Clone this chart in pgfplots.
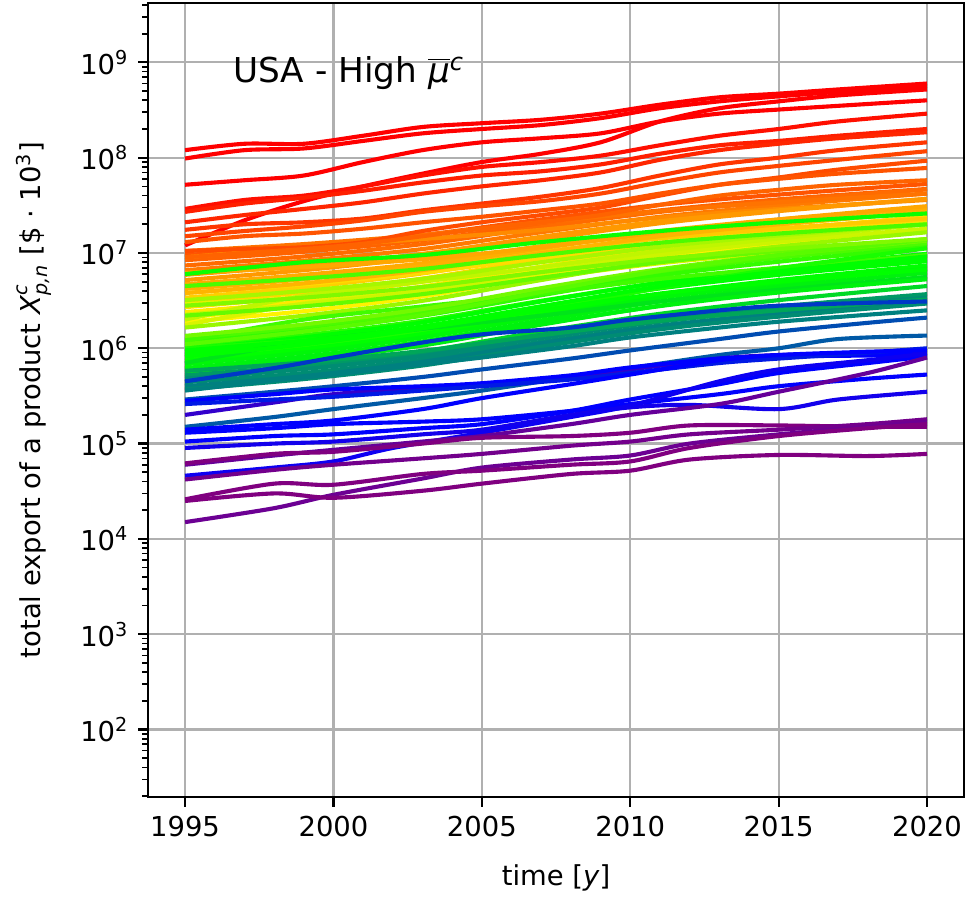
\documentclass[border=0pt]{standalone}
\usepackage{fontspec}
\setmainfont{DejaVu Sans}
\usepackage{pgfplots}
\pgfplotsset{compat=1.18}

% colour anchors of the product colour scale
\definecolor{cpur}{rgb}{0.5,0,0.5}
\definecolor{cblu}{rgb}{0,0,1}
\definecolor{clim}{rgb}{0,1,0}
\definecolor{cyel}{rgb}{1,0.95,0}
\definecolor{cora}{rgb}{1,0.6,0}
\definecolor{cred}{rgb}{1,0,0}
\definecolor{gridgray}{RGB}{176,176,176}

\begin{document}
\begin{tikzpicture}
\begin{axis}[
  scale only axis, width=297.8pt, height=289.8pt,
  ymode=log, log basis y=10,
  xmin=1993.75, xmax=2021.25,
  ymin=19.5, ymax=4.2e9,
  xtick={1995,2000,...,2020},
  ytick={1e2,1e3,1e4,1e5,1e6,1e7,1e8,1e9},
  minor ytick={20,30,40,50,60,70,80,90,
    200,300,400,500,600,700,800,900,
    2e3,3e3,4e3,5e3,6e3,7e3,8e3,9e3,
    2e4,3e4,4e4,5e4,6e4,7e4,8e4,9e4,
    2e5,3e5,4e5,5e5,6e5,7e5,8e5,9e5,
    2e6,3e6,4e6,5e6,6e6,7e6,8e6,9e6,
    2e7,3e7,4e7,5e7,6e7,7e7,8e7,9e7,
    2e8,3e8,4e8,5e8,6e8,7e8,8e8,9e8,
    2e9,3e9,4e9},
  grid=major,
  major grid style={color=gridgray, line width=0.8pt},
  axis line style={line width=0.8pt},
  tick style={black, line width=0.8pt},
  minor tick style={black, line width=0.6pt},
  major tick length=3.5pt, minor tick length=2pt,
  tick align=outside, tick pos=left,
  xticklabel style={font=\fontsize{10}{12}\selectfont,
    /pgf/number format/1000 sep={}, /pgf/number format/assume math mode=true},
  yticklabel={10\textsuperscript{\pgfmathparse{int(round(\tick))}\pgfmathresult}},
  yticklabel style={font=\fontsize{10}{12}\selectfont},
  xlabel={time [\textit{y}]},
  ylabel={total export of a product $\mbox{\itshape X}^{\mbox{\scriptsize\itshape c}}_{\mbox{\scriptsize\itshape p,n}}$ [\$ · 10\textsuperscript{3}]},
  label style={font=\fontsize{10}{12}\selectfont},
  xlabel shift=3.3pt, ylabel shift=3.6pt,
  every axis plot/.append style={line width=1.5pt, smooth, tension=0.5, no markers, line join=round},
]

% ---- yellow products
\addplot[cyel!60!cora] coordinates {(1995,3.4e6)(1999,4.35e6)(2003,6.1e6)(2007,9.6e6)(2011,1.45e7)(2015,1.98e7)(2020,2.7e7)};
\addplot[cyel!70!cora] coordinates {(1995,3.0e6)(1999,3.85e6)(2003,5.4e6)(2007,8.5e6)(2011,1.28e7)(2015,1.75e7)(2020,2.4e7)};
\addplot[cyel!80!cora] coordinates {(1995,2.7e6)(1999,3.5e6)(2003,5.0e6)(2007,8.1e6)(2011,1.25e7)(2015,1.73e7)(2020,2.4e7)};
\addplot[cyel!90!cora] coordinates {(1995,2.4e6)(1999,3.1e6)(2003,4.45e6)(2007,7.2e6)(2011,1.1e7)(2015,1.54e7)(2020,2.15e7)};
\addplot[cyel] coordinates {(1995,2.1e6)(1999,2.8e6)(2003,4.0e6)(2007,6.6e6)(2011,1.05e7)(2015,1.5e7)(2020,2.1e7)};
\addplot[cyel] coordinates {(1995,1.9e6)(1999,2.45e6)(2003,3.5e6)(2007,5.7e6)(2011,8.8e6)(2015,1.22e7)(2020,1.7e7)};
\addplot[cyel!85!clim] coordinates {(1995,1.75e6)(1999,2.95e6)(2003,4.0e6)(2007,5.5e6)(2011,7.8e6)(2015,1.02e7)(2020,1.4e7)};
\addplot[cyel!75!cora] coordinates {(1995,3.8e6)(1999,4.7e6)(2003,6.2e6)(2007,9.0e6)(2011,1.27e7)(2015,1.65e7)(2020,2.15e7)};
\addplot[cyel!90!clim] coordinates {(1995,2.9e6)(1999,3.4e6)(2003,4.3e6)(2007,6.1e6)(2011,9.4e6)(2015,1.39e7)(2020,2.05e7)};
\addplot[cyel!80!clim] coordinates {(1995,2.25e6)(1999,2.9e6)(2003,4.0e6)(2007,6.35e6)(2011,9.6e6)(2015,1.31e7)(2020,1.8e7)};
\addplot[cyel!55!cora] coordinates {(1995,4.6e6)(1999,5.6e6)(2003,7.2e6)(2007,1.03e7)(2011,1.42e7)(2015,1.81e7)(2020,2.3e7)};
\addplot[cyel!75!clim] coordinates {(1995,2.0e6)(1999,3.55e6)(2003,5.0e6)(2007,7.1e6)(2011,1.05e7)(2015,1.42e7)(2020,2.0e7)};
\addplot[cyel!65!clim] coordinates {(1995,3.2e6)(1999,4.0e6)(2003,5.35e6)(2007,8.0e6)(2011,1.16e7)(2015,1.53e7)(2020,2.0e7)};
\addplot[cyel!60!clim] coordinates {(1995,1.65e6)(1999,2.2e6)(2003,3.15e6)(2007,5.2e6)(2011,8.3e6)(2015,1.17e7)(2020,1.65e7)};

% ---- orange products
\addplot[cred!45!cora] coordinates {(1995,9.5e6)(1999,1.17e7)(2003,1.54e7)(2007,2.25e7)(2011,3.2e7)(2015,4.1e7)(2020,5.3e7)};
\addplot[cred!35!cora] coordinates {(1995,8.4e6)(1999,1.03e7)(2003,1.36e7)(2007,2.0e7)(2011,2.8e7)(2015,3.65e7)(2020,4.7e7)};
\addplot[cred!30!cora] coordinates {(1995,7.4e6)(1999,9.2e6)(2003,1.24e7)(2007,1.86e7)(2011,2.7e7)(2015,3.5e7)(2020,4.65e7)};
\addplot[cred!20!cora] coordinates {(1995,6.6e6)(1999,8.3e6)(2003,1.1e7)(2007,1.65e7)(2011,2.4e7)(2015,3.15e7)(2020,4.2e7)};
\addplot[cred!10!cora] coordinates {(1995,9.0e6)(1999,1.15e7)(2003,1.4e7)(2007,1.75e7)(2011,2.35e7)(2015,2.9e7)(2020,3.6e7)};
\addplot[cora] coordinates {(1995,5.9e6)(1999,7.4e6)(2003,9.8e6)(2007,1.48e7)(2011,2.15e7)(2015,2.8e7)(2020,3.7e7)};
\addplot[cora] coordinates {(1995,5.2e6)(1999,6.6e6)(2003,9.0e6)(2007,1.38e7)(2011,2.05e7)(2015,2.75e7)(2020,3.7e7)};
\addplot[cora!80!cyel] coordinates {(1995,4.7e6)(1999,5.9e6)(2003,7.8e6)(2007,1.18e7)(2011,1.7e7)(2015,2.25e7)(2020,2.95e7)};
\addplot[cora!75!cyel] coordinates {(1995,4.2e6)(1999,5.3e6)(2003,7.3e6)(2007,1.12e7)(2011,1.65e7)(2015,2.2e7)(2020,3.0e7)};
\addplot[cora!85!cyel] coordinates {(1995,6.2e6)(1999,7.1e6)(2003,8.6e6)(2007,1.15e7)(2011,1.63e7)(2015,2.25e7)(2020,3.1e7)};
\addplot[cora!70!cyel] coordinates {(1995,3.8e6)(1999,4.8e6)(2003,6.6e6)(2007,1.0e7)(2011,1.5e7)(2015,2.0e7)(2020,2.7e7)};
\addplot[cred!25!cora] coordinates {(1995,1.05e7)(1999,1.24e7)(2003,1.55e7)(2007,2.1e7)(2011,2.75e7)(2015,3.4e7)(2020,4.2e7)};

% ---- green products
\addplot[clim!70!cyel] coordinates {(1995,1.25e6)(1999,1.65e6)(2003,2.4e6)(2007,3.95e6)(2011,6.3e6)(2015,8.9e6)(2020,1.25e7)};
\addplot[clim!80!cyel] coordinates {(1995,1.15e6)(1999,1.52e6)(2003,2.2e6)(2007,3.6e6)(2011,5.8e6)(2015,8.1e6)(2020,1.15e7)};
\addplot[clim!85!cyel] coordinates {(1995,1.05e6)(1999,1.37e6)(2003,1.95e6)(2007,3.15e6)(2011,4.85e6)(2015,6.75e6)(2020,9.4e6)};
\addplot[clim] coordinates {(1995,9.8e5)(1999,1.3e6)(2003,1.87e6)(2007,3.1e6)(2011,4.9e6)(2015,6.9e6)(2020,9.8e6)};
\addplot[clim] coordinates {(1995,9.2e5)(1999,1.2e6)(2003,1.7e6)(2007,2.75e6)(2011,4.25e6)(2015,5.9e6)(2020,8.2e6)};
\addplot[clim] coordinates {(1995,8.6e5)(1999,1.14e6)(2003,1.64e6)(2007,2.72e6)(2011,4.3e6)(2015,6.1e6)(2020,8.6e6)};
\addplot[clim!90!cyel] coordinates {(1995,8.0e5)(1999,1.04e6)(2003,1.48e6)(2007,2.4e6)(2011,3.7e6)(2015,5.1e6)(2020,7.1e6)};
\addplot[clim] coordinates {(1995,7.4e5)(1999,9.8e5)(2003,1.41e6)(2007,2.34e6)(2011,3.7e6)(2015,5.2e6)(2020,7.4e6)};
\addplot[clim!97!cblu] coordinates {(1995,6.8e5)(1999,9.0e5)(2003,1.3e6)(2007,2.15e6)(2011,3.4e6)(2015,4.8e6)(2020,6.8e6)};
\addplot[clim!95!cblu] coordinates {(1995,6.2e5)(1999,8.2e5)(2003,1.18e6)(2007,1.96e6)(2011,3.1e6)(2015,4.4e6)(2020,6.2e6)};
\addplot[clim!92!cblu] coordinates {(1995,5.6e5)(1999,7.4e5)(2003,1.07e6)(2007,1.77e6)(2011,2.8e6)(2015,3.96e6)(2020,5.6e6)};
\addplot[clim!75!cyel] coordinates {(1995,1.2e6)(1999,2.0e6)(2003,2.75e6)(2007,3.75e6)(2011,5.35e6)(2015,7.0e6)(2020,9.5e6)};
\addplot[clim!90!cyel] coordinates {(1995,1.0e6)(1999,1.21e6)(2003,1.62e6)(2007,2.5e6)(2011,4.3e6)(2015,6.9e6)(2020,1.12e7)};
\addplot[clim!95!cyel] coordinates {(1995,6.0e6)(1999,8.0e6)(2003,9.5e6)(2007,1.3e7)(2011,1.7e7)(2015,2.1e7)(2020,2.6e7)};
\addplot[clim!60!cyel] coordinates {(1995,2.2e6)(1999,2.75e6)(2003,3.7e6)(2007,5.5e6)(2011,8.0e6)(2015,1.05e7)(2020,1.39e7)};
\addplot[clim!70!cyel] coordinates {(1995,4.5e6)(1999,5.4e6)(2003,6.8e6)(2007,9.5e6)(2011,1.28e7)(2015,1.6e7)(2020,2.0e7)};
\addplot[clim!55!cyel] coordinates {(1995,1.35e6)(1999,1.78e6)(2003,2.58e6)(2007,4.27e6)(2011,6.76e6)(2015,9.56e6)(2020,1.35e7)};
\addplot[clim!90!cblu] coordinates {(1995,7.0e5)(1999,1.18e6)(2003,1.6e6)(2007,2.2e6)(2011,3.1e6)(2015,4.1e6)(2020,5.6e6)};
\addplot[clim] coordinates {(1995,9.5e5)(1999,1.2e6)(2003,1.64e6)(2007,2.5e6)(2011,3.75e6)(2015,5.0e6)(2020,6.7e6)};
\addplot[clim!65!cyel] coordinates {(1995,1.1e6)(1999,1.5e6)(2003,2.23e6)(2007,3.9e6)(2011,6.5e6)(2015,9.5e6)(2020,1.38e7)};
\addplot[clim] coordinates {(1995,8.2e5)(1999,1.1e6)(2003,1.62e6)(2007,2.75e6)(2011,4.45e6)(2015,6.4e6)(2020,9.2e6)};
\addplot[clim!50!cyel] coordinates {(1995,2.8e6)(1999,3.4e6)(2003,4.4e6)(2007,6.3e6)(2011,8.65e6)(2015,1.1e7)(2020,1.4e7)};
\addplot[clim!85!cblu] coordinates {(1995,5.0e5)(1999,6.5e5)(2003,9.25e5)(2007,1.5e6)(2011,2.3e6)(2015,3.2e6)(2020,4.5e6)};
\addplot[clim!95!cblu] coordinates {(1995,6.0e5)(1999,7.8e5)(2003,1.11e6)(2007,1.8e6)(2011,2.77e6)(2015,3.85e6)(2020,5.3e6)};

% ---- teal products
\addplot[clim!60!cblu] coordinates {(1995,5.2e5)(1999,6.55e5)(2003,9.0e5)(2007,1.38e6)(2011,2.05e6)(2015,2.75e6)(2020,3.7e6)};
\addplot[clim!55!cblu] coordinates {(1995,4.8e5)(1999,6.05e5)(2003,8.3e5)(2007,1.28e6)(2011,1.9e6)(2015,2.55e6)(2020,3.4e6)};
\addplot[clim!55!cblu] coordinates {(1995,4.4e5)(1999,5.5e5)(2003,7.6e5)(2007,1.17e6)(2011,1.73e6)(2015,2.3e6)(2020,3.1e6)};
\addplot[clim!50!cblu] coordinates {(1995,4.0e5)(1999,5.1e5)(2003,7.2e5)(2007,1.13e6)(2011,1.7e6)(2015,2.33e6)(2020,3.2e6)};
\addplot[clim!55!cblu] coordinates {(1995,3.7e5)(1999,4.75e5)(2003,6.6e5)(2007,1.04e6)(2011,1.58e6)(2015,2.15e6)(2020,2.95e6)};
\addplot[clim!65!cblu] coordinates {(1995,5.8e5)(1999,7.1e5)(2003,9.4e5)(2007,1.37e6)(2011,1.94e6)(2015,2.5e6)(2020,3.25e6)};
\addplot[cblu!50!clim] coordinates {(1995,3.6e5)(1998,4.6e5)(2000,5.3e5)(2003,6.8e5)(2005,8.0e5)(2008,1.05e6)(2010,1.3e6)(2013,1.65e6)(2015,1.9e6)(2018,2.25e6)(2020,2.5e6)};
\addplot[cblu!70!clim] coordinates {(1995,2.9e5)(1998,3.5e5)(2000,4.0e5)(2003,5.0e5)(2005,6.0e5)(2008,7.8e5)(2010,9.5e5)(2013,1.25e6)(2015,1.5e6)(2018,1.85e6)(2020,2.1e6)};
\addplot[cblu!65!clim] coordinates {(1995,1.5e5)(1998,1.9e5)(2000,2.3e5)(2003,3.0e5)(2005,3.6e5)(2008,5.0e5)(2010,6.2e5)(2013,8.5e5)(2015,1.0e6)(2017,1.25e6)(2020,1.36e6)};
\addplot[cblu!78!clim] coordinates {(1995,4.5e5)(1998,6.2e5)(2000,8.0e5)(2003,1.15e6)(2005,1.4e6)(2008,1.65e6)(2010,2.0e6)(2013,2.5e6)(2015,2.8e6)(2018,3.0e6)(2020,3.1e6)};

% ---- red products
\addplot[cred] coordinates {(1995,1.2e8)(1997,1.4e8)(1999,1.4e8)(2001,1.7e8)(2003,2.1e8)(2005,2.3e8)(2007,2.5e8)(2009,2.9e8)(2011,3.6e8)(2013,4.3e8)(2015,4.7e8)(2017,5.2e8)(2020,6.0e8)};
\addplot[cred] coordinates {(1995,9.8e7)(1997,1.2e8)(1999,1.25e8)(2001,1.5e8)(2003,1.8e8)(2005,2.0e8)(2007,2.2e8)(2009,2.6e8)(2011,3.3e8)(2013,3.9e8)(2015,4.4e8)(2017,4.9e8)(2020,5.6e8)};
\addplot[cred] coordinates {(1995,1.2e7)(1997,2.2e7)(1999,3.5e7)(2001,5.0e7)(2003,6.8e7)(2005,9.0e7)(2007,1.1e8)(2009,1.45e8)(2011,2.4e8)(2013,3.3e8)(2015,3.9e8)(2017,4.5e8)(2020,5.2e8)};
\addplot[cred] coordinates {(1995,5.2e7)(1997,5.8e7)(1999,6.5e7)(2001,9.0e7)(2003,1.2e8)(2005,1.45e8)(2007,1.6e8)(2009,1.8e8)(2011,2.4e8)(2013,2.9e8)(2015,3.2e8)(2017,3.5e8)(2020,4.0e8)};
\addplot[cred!90!cora] coordinates {(1995,2.9e7)(1997,3.6e7)(1999,4.0e7)(2001,5.0e7)(2003,6.5e7)(2005,8.0e7)(2007,9.0e7)(2009,1.05e8)(2011,1.35e8)(2013,1.7e8)(2015,2.0e8)(2017,2.4e8)(2020,2.9e8)};
\addplot[cred!80!cora] coordinates {(1995,2.7e7)(1997,3.3e7)(1999,3.8e7)(2001,4.5e7)(2003,5.5e7)(2005,6.5e7)(2007,7.2e7)(2009,8.5e7)(2011,1.1e8)(2013,1.35e8)(2015,1.5e8)(2017,1.7e8)(2020,2.0e8)};
\addplot[cred!75!cora] coordinates {(1995,2.1e7)(1997,2.5e7)(1999,2.9e7)(2001,3.4e7)(2003,4.2e7)(2005,5.0e7)(2007,5.8e7)(2009,7.0e7)(2011,9.5e7)(2013,1.2e8)(2015,1.4e8)(2017,1.6e8)(2020,1.85e8)};
\addplot[cred!65!cora] coordinates {(1995,1.75e7)(1997,2.0e7)(1999,2.1e7)(2001,2.3e7)(2003,2.8e7)(2005,3.3e7)(2007,3.9e7)(2009,4.8e7)(2011,6.5e7)(2013,8.5e7)(2015,1.0e8)(2017,1.2e8)(2020,1.45e8)};
\addplot[cred!55!cora] coordinates {(1995,1.5e7)(1997,1.7e7)(1999,1.9e7)(2001,2.2e7)(2003,2.7e7)(2005,3.1e7)(2007,3.5e7)(2009,4.2e7)(2011,5.5e7)(2013,7.0e7)(2015,8.2e7)(2017,9.5e7)(2020,1.17e8)};
\addplot[cred!50!cora] coordinates {(1995,1.05e7)(1997,1.1e7)(1999,1.15e7)(2001,1.3e7)(2003,1.7e7)(2005,2.1e7)(2007,2.5e7)(2009,3.0e7)(2011,4.0e7)(2013,5.2e7)(2015,6.2e7)(2017,7.5e7)(2020,9.3e7)};
\addplot[cred!45!cora] coordinates {(1995,1.3e7)(1997,1.5e7)(1999,1.6e7)(2001,1.8e7)(2003,2.1e7)(2005,2.4e7)(2007,2.8e7)(2009,3.3e7)(2011,4.2e7)(2013,5.2e7)(2015,6.0e7)(2017,6.8e7)(2020,7.8e7)};
\addplot[cred!35!cora] coordinates {(1995,9.0e6)(1997,1.0e7)(1999,1.1e7)(2001,1.25e7)(2003,1.5e7)(2005,1.8e7)(2007,2.1e7)(2009,2.5e7)(2011,3.2e7)(2013,4.0e7)(2015,4.6e7)(2017,5.2e7)(2020,5.8e7)};

% ---- blue products
\addplot[cblu!60!cpur] coordinates {(1995,2.0e5)(1998,2.7e5)(2000,3.3e5)(2003,3.9e5)(2005,4.2e5)(2008,5.0e5)(2010,6.0e5)(2013,7.8e5)(2015,8.5e5)(2018,8.8e5)(2020,9.0e5)};
\addplot[cblu] coordinates {(1995,2.8e5)(1998,3.3e5)(2000,3.7e5)(2003,4.0e5)(2005,4.3e5)(2008,5.2e5)(2010,6.3e5)(2013,7.8e5)(2015,8.2e5)(2018,8.4e5)(2020,8.6e5)};
\addplot[cblu!90!clim] coordinates {(1995,2.6e5)(1998,2.9e5)(2000,3.1e5)(2003,3.6e5)(2005,4.0e5)(2008,4.7e5)(2010,5.5e5)(2013,7.0e5)(2015,7.8e5)(2018,9.0e5)(2020,1.0e6)};
\addplot[cblu] coordinates {(1995,1.4e5)(1998,1.6e5)(2000,1.75e5)(2003,2.3e5)(2005,3.0e5)(2008,4.2e5)(2010,5.3e5)(2013,7.5e5)(2015,8.5e5)(2018,9.2e5)(2020,9.5e5)};
\addplot[cblu] coordinates {(1995,1.3e5)(1998,1.45e5)(2000,1.6e5)(2003,1.7e5)(2005,1.8e5)(2008,2.2e5)(2010,2.6e5)(2013,3.3e5)(2015,4.0e5)(2018,4.8e5)(2020,5.3e5)};
\addplot[cblu!85!cpur] coordinates {(1995,9.0e4)(1998,1.0e5)(2000,1.05e5)(2003,1.25e5)(2005,1.4e5)(2008,2.0e5)(2010,2.4e5)(2012,2.55e5)(2015,2.3e5)(2017,2.9e5)(2020,3.5e5)};
\addplot[cblu] coordinates {(1995,1.05e5)(1998,1.2e5)(2000,1.25e5)(2003,1.45e5)(2005,1.6e5)(2008,2.2e5)(2010,2.9e5)(2013,4.2e5)(2015,5.5e5)(2018,7.0e5)(2020,8.2e5)};
\addplot[cblu!90!cpur] coordinates {(1995,4.6e4)(1998,5.6e4)(2000,6.5e4)(2002,9.0e4)(2005,1.3e5)(2008,1.9e5)(2010,2.5e5)(2013,4.5e5)(2015,6.0e5)(2018,7.5e5)(2020,8.8e5)};

% ---- purple products
\addplot[cpur!80!cblu] coordinates {(1995,6.0e4)(1998,7.5e4)(2000,8.6e4)(2003,1.05e5)(2005,1.2e5)(2008,1.6e5)(2010,2.0e5)(2013,2.6e5)(2015,3.5e5)(2018,5.5e5)(2020,8.0e5)};
\addplot[cpur] coordinates {(1995,6.2e4)(1998,7.8e4)(2000,8.2e4)(2003,1.0e5)(2005,1.15e5)(2008,1.2e5)(2010,1.3e5)(2012,1.55e5)(2015,1.55e5)(2018,1.5e5)(2020,1.5e5)};
\addplot[cpur!90!cblu] coordinates {(1995,4.2e4)(1998,5.3e4)(2000,6.0e4)(2003,7.0e4)(2005,7.8e4)(2008,9.5e4)(2010,1.05e5)(2012,1.25e5)(2015,1.4e5)(2018,1.6e5)(2020,1.8e5)};
\addplot[cpur!85!cblu] coordinates {(1995,1.5e4)(1998,2.1e4)(2000,2.9e4)(2003,4.3e4)(2005,5.6e4)(2008,6.8e4)(2010,7.5e4)(2012,1.0e5)(2015,1.25e5)(2018,1.5e5)(2020,1.7e5)};
\addplot[cpur] coordinates {(1995,2.6e4)(1998,3.8e4)(2000,3.7e4)(2003,4.8e4)(2005,5.2e4)(2008,6.0e4)(2010,6.5e4)(2012,9.0e4)(2015,1.2e5)(2018,1.45e5)(2020,1.6e5)};
\addplot[cpur] coordinates {(1995,2.5e4)(1998,3.0e4)(2000,2.7e4)(2003,3.2e4)(2005,3.8e4)(2008,4.8e4)(2010,5.2e4)(2012,6.8e4)(2015,7.6e4)(2018,7.4e4)(2020,7.8e4)};

\node[anchor=base west, font=\fontsize{12.5}{15}\selectfont, inner sep=0pt]
  at (rel axis cs:0.104,0.9) {USA - High $\overline{\mbox{\itshape μ}}$\textsuperscript{\itshape c}};
\end{axis}
\pgfresetboundingbox
\path ([xshift=-54pt,yshift=-36.9pt]current axis.south west) rectangle ([xshift=0.7pt,yshift=1.1pt]current axis.north east);
\end{tikzpicture}
\end{document}
